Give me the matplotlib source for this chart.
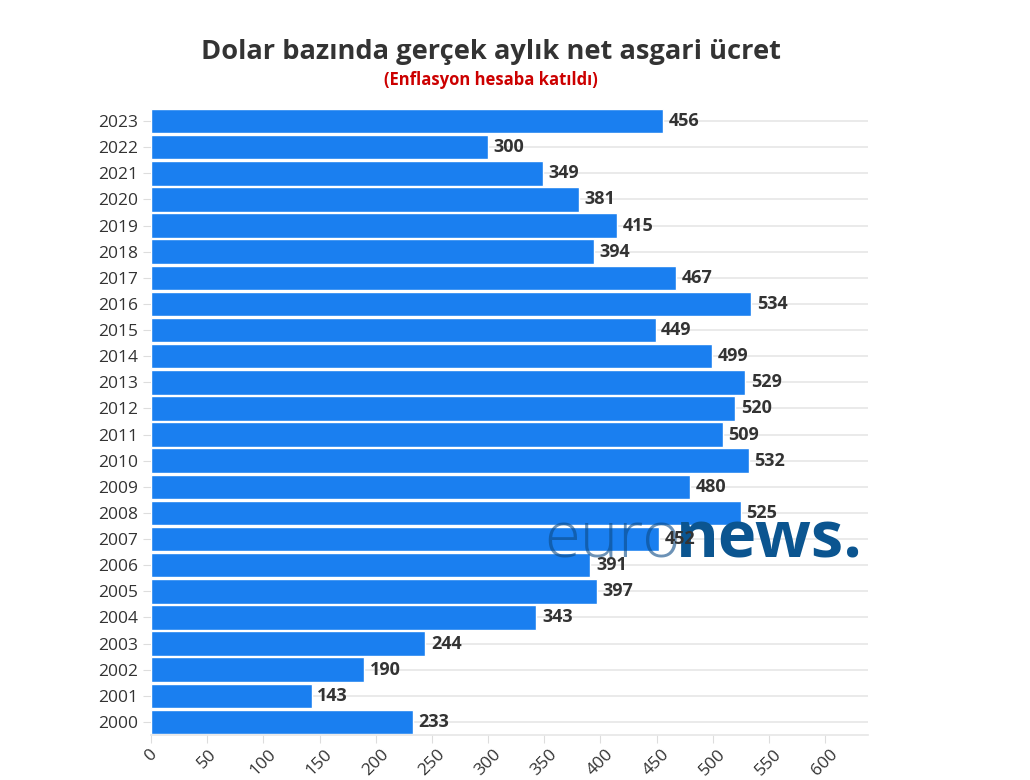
import numpy as np
import matplotlib.pyplot as plt

years = [str(y) for y in range(2023, 1999, -1)]
values = [456, 300, 349, 381, 415, 394, 467, 534, 449, 499, 529, 520,
          509, 532, 480, 525, 452, 391, 397, 343, 244, 190, 143, 233]
xticks = list(range(0, 650, 50))

plt.rcParams['font.family'] = ['Open Sans', 'DejaVu Sans']

fig = plt.figure(figsize=(10.3, 7.8), dpi=100)
ax = fig.add_axes([0.1466, 0.0577, 0.696, 0.8038])

ypos = np.arange(len(years))[::-1]
ax.barh(ypos, values, height=0.94, color='#1a7ff0', edgecolor='white',
        linewidth=1, zorder=2)
for y, v in zip(ypos, values):
    ax.text(v + 5, y, str(v), va='center', ha='left', fontsize=13,
            fontweight='bold', color='#333333', zorder=5)

ax.set_xlim(0, 638)
ax.set_ylim(-0.5, len(years) - 0.5)
ax.set_yticks(ypos)
ax.set_yticklabels(years, fontsize=12.5, color='#333333')
ax.set_xticks(xticks)
ax.set_xticklabels([str(t) for t in xticks], rotation=45, fontsize=12.5,
                   color='#333333', ha='center', va='top')
ax.tick_params(axis='both', color='#dddddd', length=6)
ax.tick_params(axis='x', pad=2)
ax.grid(axis='y', color='#e6e6e6', linewidth=1.2, zorder=0)
for s in ['top', 'right', 'left']:
    ax.spines[s].set_visible(False)
ax.spines['bottom'].set_color('#e6e6e6')
ax.spines['bottom'].set_linewidth(1.2)

fig.text(0.477, 0.933, 'Dolar bazında gerçek aylık net asgari ücret',
         ha='center', va='center', fontsize=19.6, fontweight='bold', color='#333333')
fig.text(0.477, 0.897, '(Enflasyon hesaba katıldı)', ha='center', va='center',
         fontsize=12, fontweight='bold', color='#cc0000')

# watermark: "news." anchored right, "euro" placed right before it
news = ax.text(0.838, 0.306, 'news.', ha='right', va='center', fontsize=47,
               fontweight='bold', color='#0b5590', zorder=3,
               transform=fig.transFigure, clip_on=False)
fig.canvas.draw()
bb = news.get_window_extent(renderer=fig.canvas.get_renderer())
x_left = bb.x0 / fig.bbox.width
ax.text(x_left + 0.004, 0.306, 'euro', ha='right', va='center', fontsize=47,
        fontweight='light', color='#0b4a86', alpha=0.6, zorder=3,
        transform=fig.transFigure, clip_on=False)

fig.savefig('out.png', dpi=100)
